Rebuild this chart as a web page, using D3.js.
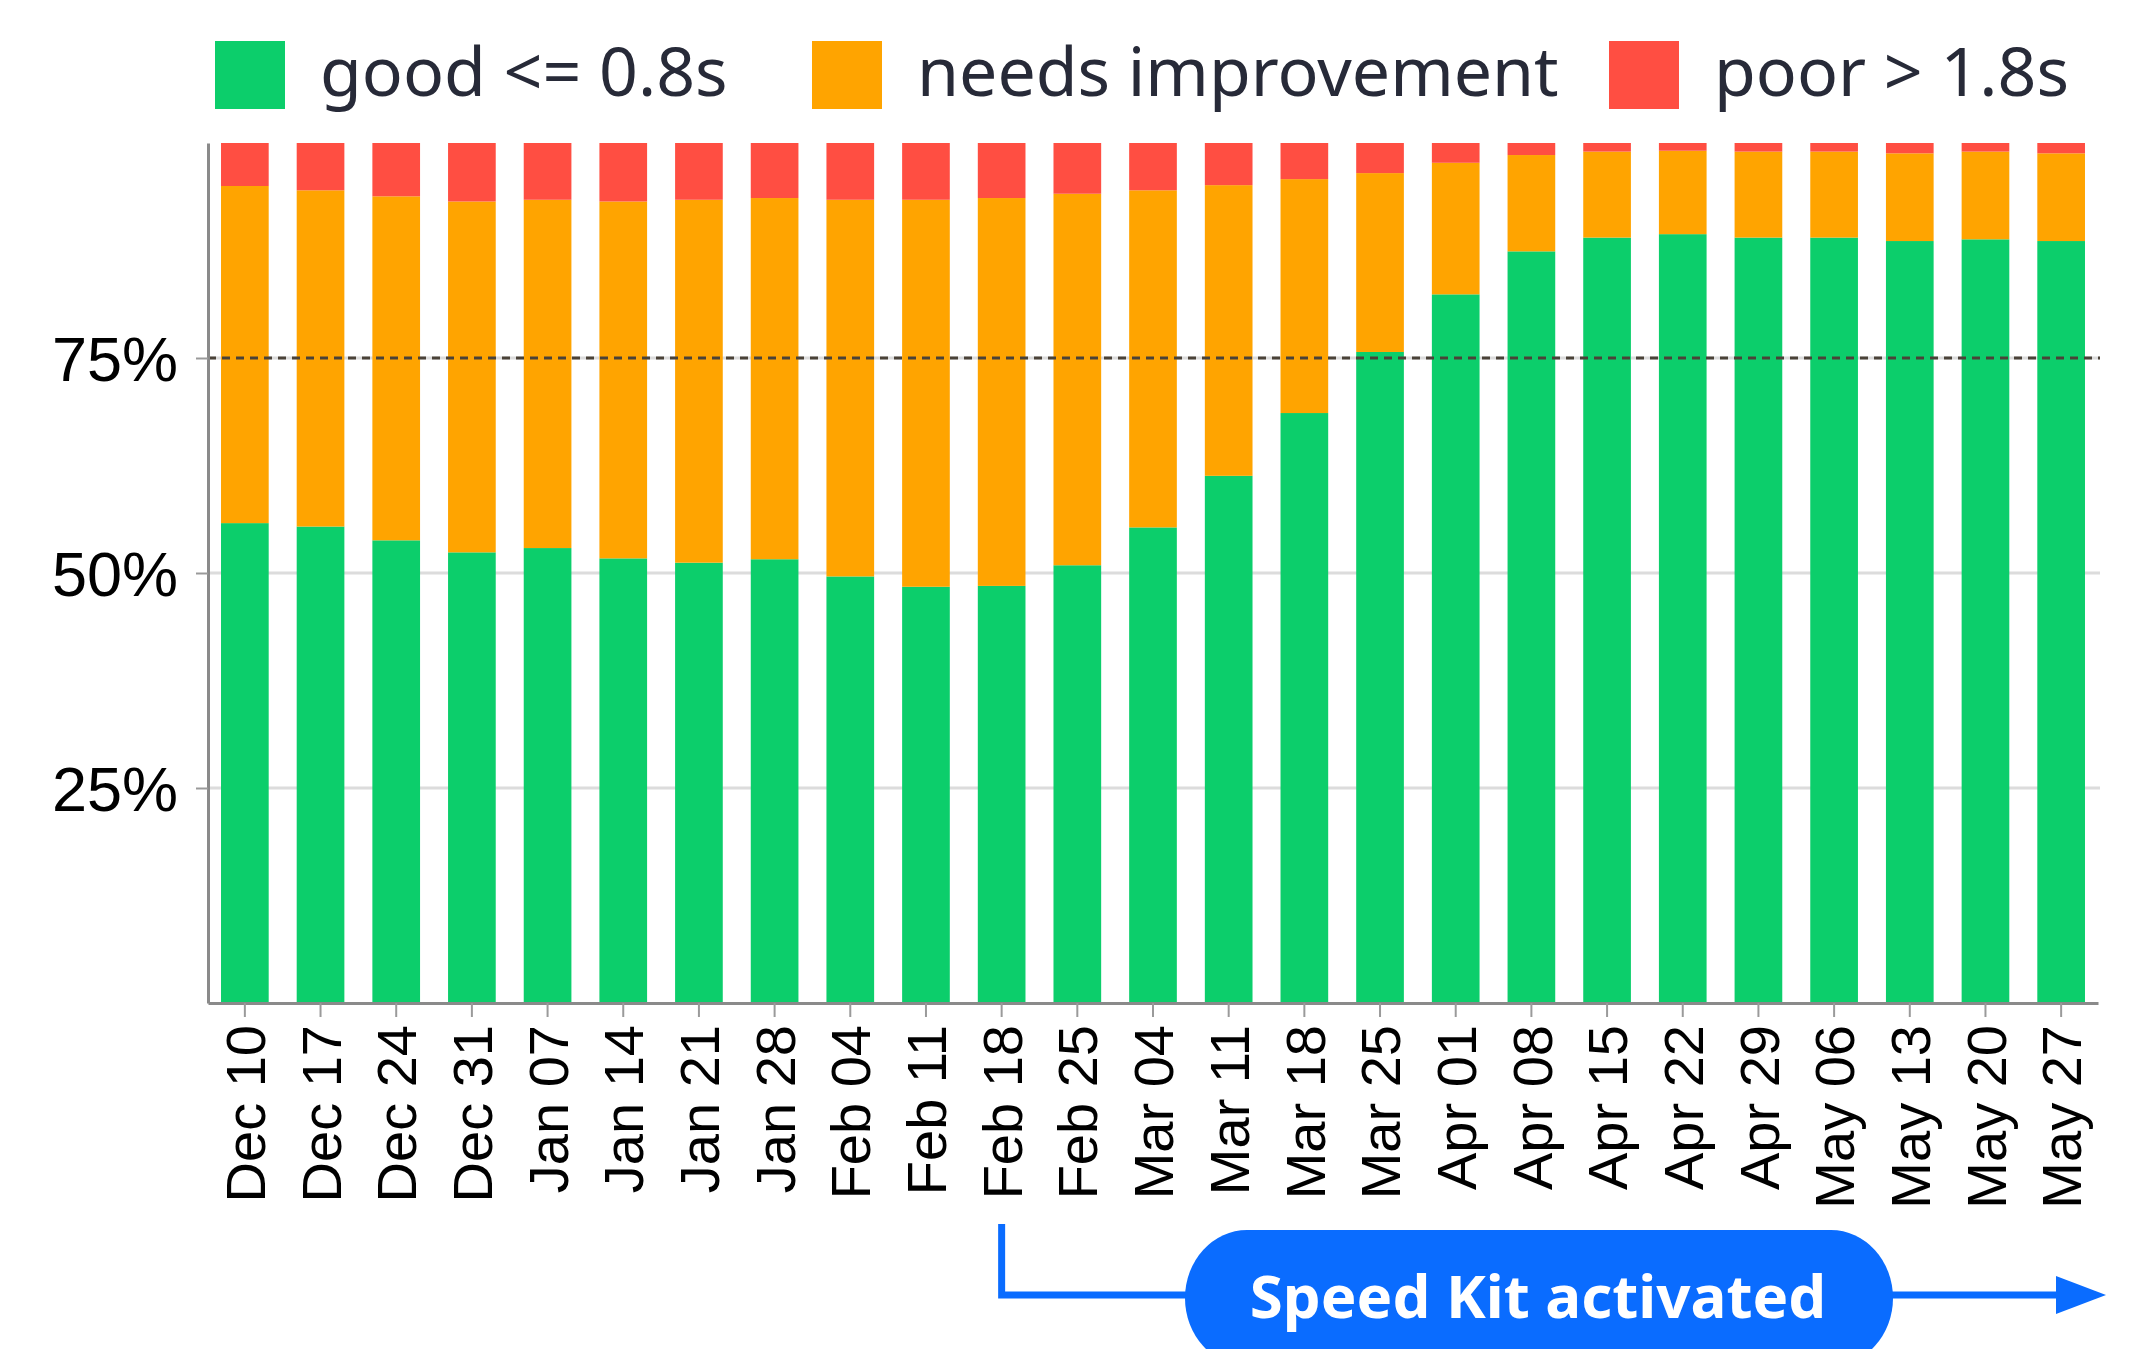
<!DOCTYPE html>
<html>
<head>
<meta charset="utf-8">
<script src="https://cdn.jsdelivr.net/npm/d3@7"></script>
<style>
  body { margin: 0; background: #fff; }
</style>
</head>
<body>
<script>
// weekly share of page loads per rating bucket (percent)
var weeks = ["Dec 10", "Dec 17", "Dec 24", "Dec 31", "Jan 07", "Jan 14", "Jan 21", "Jan 28",
             "Feb 04", "Feb 11", "Feb 18", "Feb 25", "Mar 04", "Mar 11", "Mar 18", "Mar 25",
             "Apr 01", "Apr 08", "Apr 15", "Apr 22", "Apr 29", "May 06", "May 13", "May 20", "May 27"];
var good  = [55.8, 55.4, 53.8, 52.4, 52.9, 51.7, 51.2, 51.6, 49.6, 48.4, 48.5, 50.9, 55.3,
             61.3, 68.6, 75.7, 82.4, 87.4, 89.0, 89.4, 89.0, 89.0, 88.6, 88.8, 88.6];
var needs = [39.2, 39.1, 40.0, 40.8, 40.5, 41.5, 42.2, 42.0, 43.8, 45.0, 45.1, 43.2, 39.2,
             33.8, 27.2, 20.8, 15.3, 11.2, 10.0, 9.7, 10.0, 10.0, 10.2, 10.2, 10.2];
var poor  = [5.0, 5.5, 6.2, 6.8, 6.6, 6.8, 6.6, 6.4, 6.6, 6.6, 6.4, 5.9, 5.5,
             4.9, 4.2, 3.5, 2.3, 1.4, 1.0, 0.9, 1.0, 1.0, 1.2, 1.0, 1.2];
var yTicks = [25, 50, 75];
var target = 75;
var legendLabels = ["good <= 0.8s", "needs improvement", "poor > 1.8s"];
var activatedWeek = "Feb 18";
var annotationLabel = "Speed Kit activated";

chart();

function chart() {

var width = 2133;
var height = 1349;

var keys = ["good", "needs", "poor"];
var color = d3.scaleOrdinal()
    .domain(keys)
    .range(["#0cce6b", "#ffa400", "#ff4e42"]);

var rows = weeks.map(function(w, i) {
  return {week: w, good: good[i], needs: needs[i], poor: poor[i]};
});
var series = d3.stack().keys(keys)(rows);

var x = d3.scaleBand()
    .domain(weeks)
    .range([208, 2098])
    .paddingInner(0.37)
    .paddingOuter(0.172);

var y = d3.scaleLinear()
    .domain([0, 100])
    .range([1003, 143]);

var svg = d3.select("body").append("svg")
    .attr("width", width)
    .attr("height", height)
    .style("display", "block")
    .style("background", "#fff");

// grid lines sit behind the bars
svg.append("g")
  .selectAll("line")
  .data(yTicks)
  .join("line")
    .attr("x1", 208)
    .attr("x2", 2100)
    .attr("y1", d => y(d))
    .attr("y2", d => y(d))
    .attr("stroke", "#dcdcdc")
    .attr("stroke-width", 3);

svg.append("g")
  .selectAll("g")
  .data(series)
  .join("g")
    .attr("fill", d => color(d.key))
  .selectAll("rect")
  .data(d => d)
  .join("rect")
    .attr("x", d => x(d.data.week))
    .attr("width", x.bandwidth())
    .attr("y", d => y(d[1]))
    .attr("height", d => y(d[0]) - y(d[1]));

// target line on top of the bars
svg.append("line")
    .attr("x1", 208)
    .attr("x2", 2100)
    .attr("y1", y(target))
    .attr("y2", y(target))
    .attr("stroke", "#4a4238")
    .attr("stroke-width", 3)
    .attr("stroke-dasharray", "8,6");

var yAxis = svg.append("g")
    .attr("transform", "translate(208,0)")
    .call(d3.axisLeft(y).tickValues(yTicks).tickSize(12).tickSizeOuter(0).tickFormat(d => d + "%"));

yAxis.select(".domain").attr("stroke", "#8a8a8a").attr("stroke-width", 3);
yAxis.selectAll(".tick line").attr("stroke", "#9a9a9a").attr("stroke-width", 2);
yAxis.selectAll(".tick text")
    .attr("x", -30)
    .attr("dy", "0.36em")
    .attr("fill", "#000")
    .style("font-family", "'Liberation Sans', Arial, sans-serif")
    .style("font-size", "63px");

var xAxis = svg.append("g")
    .attr("transform", "translate(0,1003)")
    .call(d3.axisBottom(x).tickSize(14).tickSizeOuter(0));

xAxis.select(".domain").attr("stroke", "#8a8a8a").attr("stroke-width", 3);
xAxis.selectAll(".tick line").attr("stroke", "#9a9a9a").attr("stroke-width", 2);
xAxis.selectAll(".tick text")
    .attr("transform", "rotate(-90)")
    .attr("text-anchor", "end")
    .attr("x", -22)
    .attr("y", 0)
    .attr("dy", "0.36em")
    .attr("fill", "#000")
    .style("font-family", "'Liberation Sans', Arial, sans-serif")
    .style("font-size", "56px");

// legend
var legendX = [215, 812, 1609];
var legend = svg.append("g")
  .selectAll("g")
  .data(legendLabels)
  .join("g")
    .attr("transform", (d, i) => `translate(${legendX[i]},41)`);

legend.append("rect")
    .attr("width", 70)
    .attr("height", 68)
    .attr("fill", (d, i) => color(keys[i]));

legend.append("text")
    .attr("x", 105)
    .attr("y", 55)
    .attr("fill", "#272a38")
    .style("font-family", "'Noto Sans', sans-serif")
    .style("font-size", "68px")
    .text(d => d);

// annotation: activation marker
var ax = x(activatedWeek) + x.bandwidth() / 2;
var ay = 1295;
var blue = "#0a6cff";

svg.append("path")
    .attr("d", `M${ax},1224V${ay}H2060`)
    .attr("fill", "none")
    .attr("stroke", blue)
    .attr("stroke-width", 7);

svg.append("path")
    .attr("d", `M2056,${ay - 19}L2106,${ay}L2056,${ay + 19}Z`)
    .attr("fill", blue);

svg.append("rect")
    .attr("x", 1185)
    .attr("y", 1230)
    .attr("width", 708)
    .attr("height", 136)
    .attr("rx", 62)
    .attr("ry", 68)
    .attr("fill", blue);

svg.append("text")
    .attr("x", 1538)
    .attr("y", 1318)
    .attr("text-anchor", "middle")
    .attr("fill", "#fff")
    .style("font-family", "'Noto Sans', sans-serif")
    .style("font-weight", "700")
    .style("font-size", "60px")
    .text(annotationLabel);
}
</script>
</body>
</html>
